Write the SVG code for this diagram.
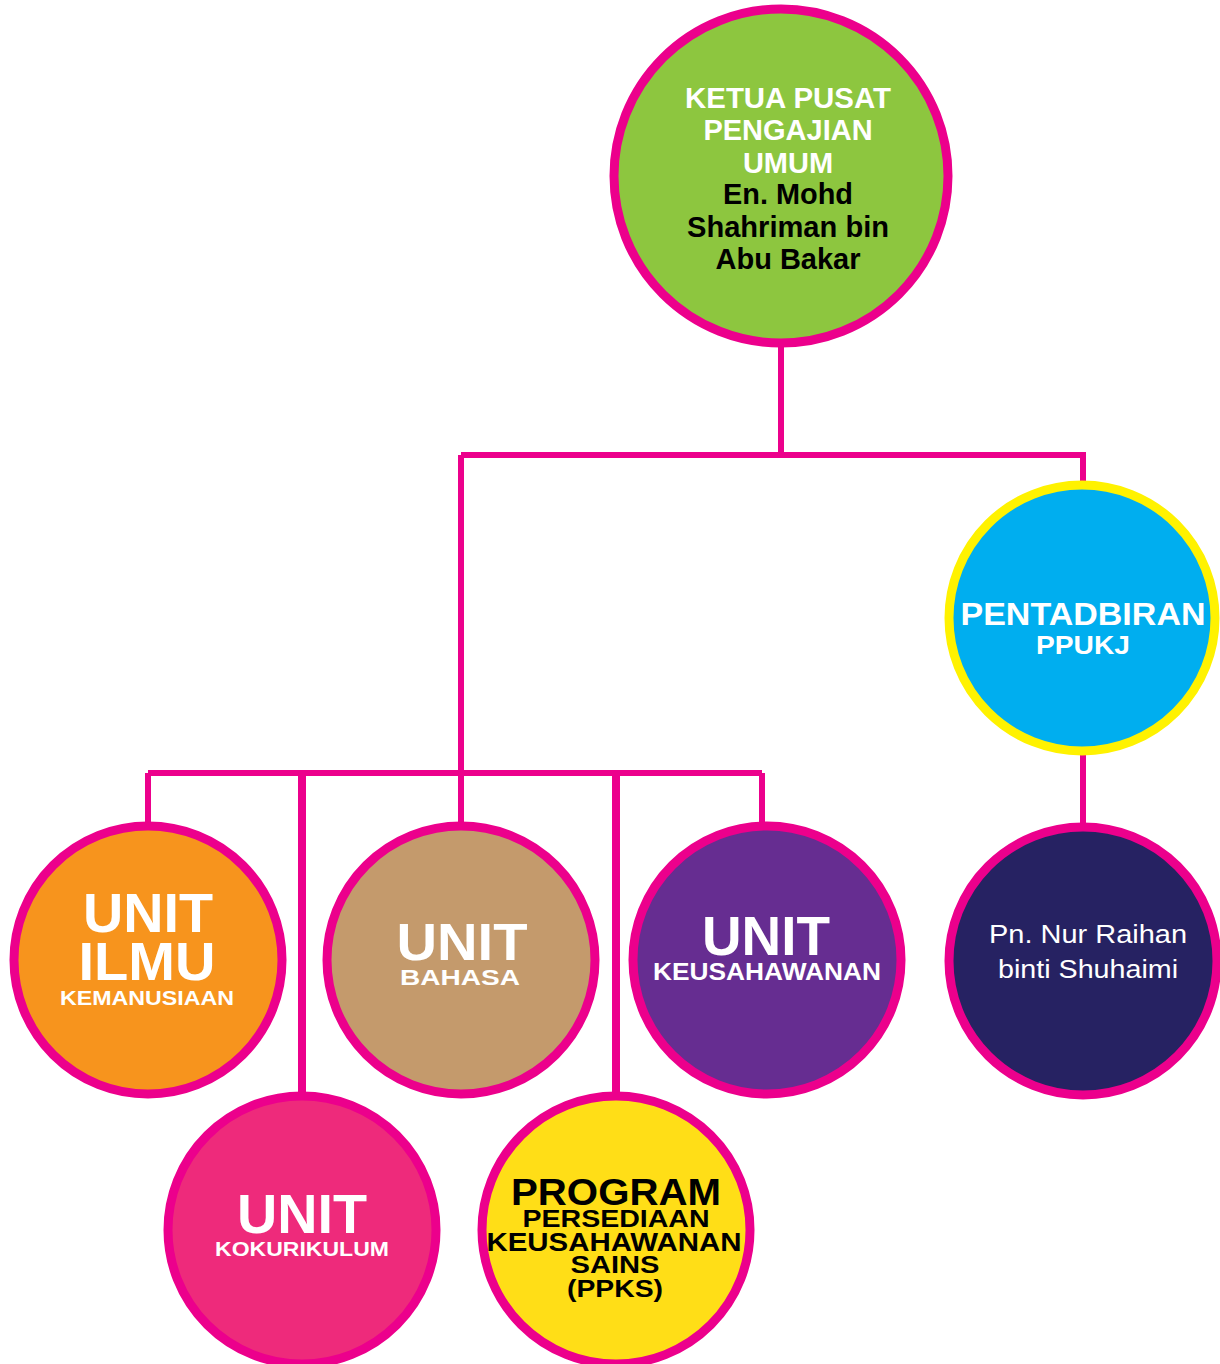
<svg xmlns="http://www.w3.org/2000/svg" width="1220" height="1364" viewBox="0 0 1220 1364">
<style>
.c{stroke:#ec008c;stroke-width:9}
.ln{fill:none;stroke:#ec008c;stroke-width:6}
.thick{stroke-width:8}
.b{font-family:"Liberation Sans",Arial,sans-serif;font-weight:bold;text-anchor:middle}
.r{font-family:"Liberation Sans",Arial,sans-serif;text-anchor:middle}
.w{fill:#ffffff}
.k{fill:#000000}
</style>
<rect width="1220" height="1364" fill="#ffffff"/>
<g id="connectors">
<path class="ln" d="M781 340 V455 M461 455 H1083 V490 M461 455 V773 M148 773 H762 M148 773 V830 M461 773 V830 M762 773 V830 M1083 750 V830"/>
<path class="ln thick" d="M302 773 V1100 M616 773 V1100"/>
</g>
<g id="ketua">
<circle class="c" cx="781" cy="176" r="167" fill="#8dc63f"/>
<text class="b w" font-size="29" x="788" y="108" textLength="206" lengthAdjust="spacingAndGlyphs">KETUA PUSAT</text>
<text class="b w" font-size="29" x="788" y="140">PENGAJIAN</text>
<text class="b w" font-size="29" x="788" y="173">UMUM</text>
<text class="b k" font-size="29" x="788" y="204" textLength="130" lengthAdjust="spacingAndGlyphs">En. Mohd</text>
<text class="b k" font-size="29" x="788" y="237" textLength="202" lengthAdjust="spacingAndGlyphs">Shahriman bin</text>
<text class="b k" font-size="29" x="788" y="269" textLength="145" lengthAdjust="spacingAndGlyphs">Abu Bakar</text>
</g>
<g id="pentadbiran">
<circle cx="1082" cy="618" r="133" fill="#00aeef" stroke="#fff200" stroke-width="9"/>
<text class="b w" font-size="31" x="1083" y="625" textLength="245" lengthAdjust="spacingAndGlyphs">PENTADBIRAN</text>
<text class="b w" font-size="26.5" x="1083" y="654" textLength="94" lengthAdjust="spacingAndGlyphs">PPUKJ</text>
</g>
<g id="pn-nur">
<circle class="c" cx="1083" cy="961" r="134" fill="#262262"/>
<text class="r w" font-size="25.5" x="1088" y="943" textLength="198" lengthAdjust="spacingAndGlyphs">Pn. Nur Raihan</text>
<text class="r w" font-size="25.5" x="1088" y="978" textLength="180" lengthAdjust="spacingAndGlyphs">binti Shuhaimi</text>
</g>
<g id="unit-ilmu">
<circle class="c" cx="148" cy="960" r="134" fill="#f7941d"/>
<text class="b w" font-size="56" x="148" y="932" textLength="130" lengthAdjust="spacingAndGlyphs">UNIT</text>
<text class="b w" font-size="54" x="147" y="980" textLength="137" lengthAdjust="spacingAndGlyphs">ILMU</text>
<text class="b w" font-size="20" x="147" y="1005" textLength="174" lengthAdjust="spacingAndGlyphs">KEMANUSIAAN</text>
</g>
<g id="unit-bahasa">
<circle class="c" cx="461" cy="960" r="134" fill="#c49a6c"/>
<text class="b w" font-size="52" x="462" y="960" textLength="131" lengthAdjust="spacingAndGlyphs">UNIT</text>
<text class="b w" font-size="22" x="460" y="985" textLength="120" lengthAdjust="spacingAndGlyphs">BAHASA</text>
</g>
<g id="unit-keusahawanan">
<circle class="c" cx="767" cy="960" r="134" fill="#662d91"/>
<text class="b w" font-size="56" x="766" y="955" textLength="128" lengthAdjust="spacingAndGlyphs">UNIT</text>
<text class="b w" font-size="23" x="767" y="980" textLength="228" lengthAdjust="spacingAndGlyphs">KEUSAHAWANAN</text>
</g>
<g id="unit-kokurikulum">
<circle class="c" cx="302" cy="1230" r="134" fill="#ee2a7b"/>
<text class="b w" font-size="56" x="302" y="1233" textLength="130" lengthAdjust="spacingAndGlyphs">UNIT</text>
<text class="b w" font-size="20" x="302" y="1256" textLength="174" lengthAdjust="spacingAndGlyphs">KOKURIKULUM</text>
</g>
<g id="program-ppks">
<circle class="c" cx="616" cy="1230" r="134" fill="#ffde17"/>
<text class="b k" font-size="37" x="616" y="1205" textLength="210" lengthAdjust="spacingAndGlyphs">PROGRAM</text>
<text class="b k" font-size="24" x="616" y="1227" textLength="187" lengthAdjust="spacingAndGlyphs">PERSEDIAAN</text>
<text class="b k" font-size="26" x="614" y="1251" textLength="255" lengthAdjust="spacingAndGlyphs">KEUSAHAWANAN</text>
<text class="b k" font-size="24" x="615" y="1273" textLength="89" lengthAdjust="spacingAndGlyphs">SAINS</text>
<text class="b k" font-size="24" x="615" y="1297" textLength="96" lengthAdjust="spacingAndGlyphs">(PPKS)</text>
</g>
</svg>
